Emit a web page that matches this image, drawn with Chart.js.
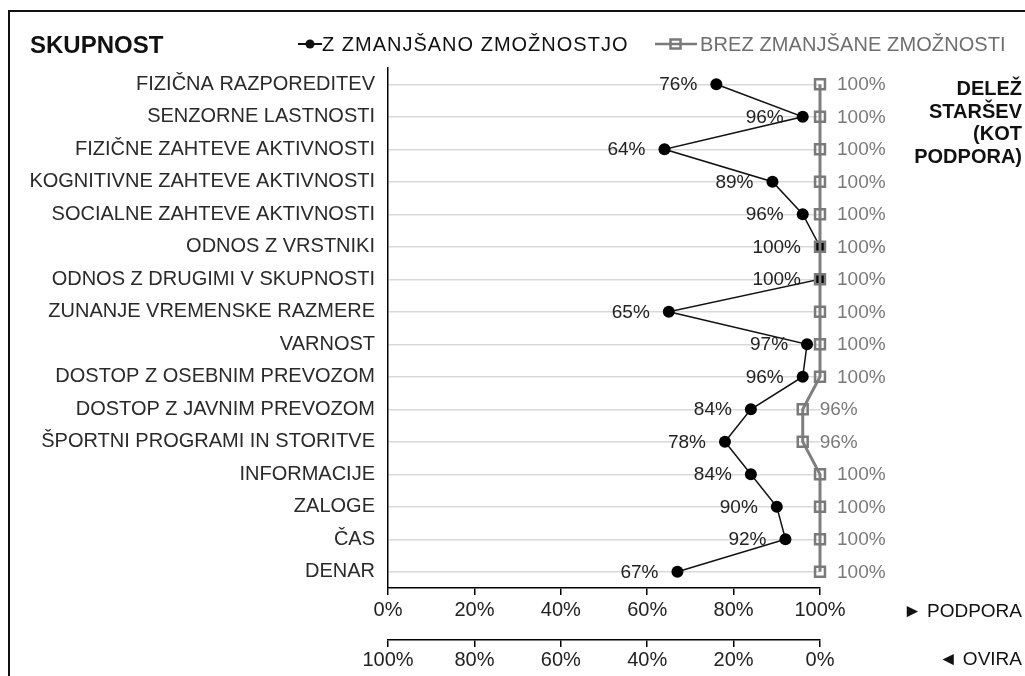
<!DOCTYPE html>
<html>
<head>
<meta charset="utf-8">
<script src="https://cdn.jsdelivr.net/npm/chart.js@4.4.1/dist/chart.umd.min.js"></script>
<style>
body { margin: 0; background: #fff; font-family: "Liberation Sans", Arial, sans-serif; }
#wrap { position: relative; width: 1025px; height: 676px; overflow: hidden; }
#frame { position: absolute; left: 8px; top: 10px; width: 1030px; height: 680px; border-left: 2px solid #111; border-top: 2px solid #111; }
#chart-box { position: absolute; left: 0; top: 0; width: 1025px; height: 676px; }
.txt { position: absolute; white-space: nowrap; line-height: 1; }
#title { left: 30px; top: 33px; font-size: 24px; font-weight: bold; color: #111; }
.leg { top: 34px; font-size: 20px; }
#leg1 { left: 322px; color: #111; letter-spacing: 1px; }
#leg2 { left: 700px; color: #6f6f6f; letter-spacing: 0.1px; }
#note { right: 3px; top: 77px; font-size: 20px; font-weight: bold; line-height: 22.5px; text-align: right; color: #111; }
.axname { right: 3px; font-size: 19px; color: #111; }
svg.sym { position: absolute; top: 34px; }
</style>
</head>
<body>
<div id="wrap">
  <div id="frame"></div>
  <div id="chart-box"><canvas id="line-chart"></canvas></div>
  <div class="txt" id="title">SKUPNOST</div>
  <svg class="sym" style="left:297px" width="26" height="20">
    <line x1="1" y1="10" x2="25" y2="10" stroke="#111" stroke-width="2"/>
    <circle cx="13" cy="10" r="4.5" fill="#111"/>
  </svg>
  <div class="txt leg" id="leg1">Z ZMANJŠANO ZMOŽNOSTJO</div>
  <svg class="sym" style="left:654px" width="44" height="20">
    <line x1="1" y1="10" x2="43" y2="10" stroke="#7a7a7a" stroke-width="2.5"/>
    <rect x="16.5" y="5.5" width="10" height="9" fill="none" stroke="#7a7a7a" stroke-width="2.5"/>
  </svg>
  <div class="txt leg" id="leg2">BREZ ZMANJŠANE ZMOŽNOSTI</div>
  <div class="txt" id="note">DELEŽ<br>STARŠEV<br>(KOT<br>PODPORA)</div>
  <div class="txt axname" style="top:601px">► PODPORA</div>
  <div class="txt axname" style="top:649px">◄ OVIRA</div>
</div>
<script>
const categories = [
    "FIZIČNA RAZPOREDITEV", "SENZORNE LASTNOSTI", "FIZIČNE ZAHTEVE AKTIVNOSTI",
    "KOGNITIVNE ZAHTEVE AKTIVNOSTI", "SOCIALNE ZAHTEVE AKTIVNOSTI", "ODNOS Z VRSTNIKI",
    "ODNOS Z DRUGIMI V SKUPNOSTI", "ZUNANJE VREMENSKE RAZMERE", "VARNOST",
    "DOSTOP Z OSEBNIM PREVOZOM", "DOSTOP Z JAVNIM PREVOZOM", "ŠPORTNI PROGRAMI IN STORITVE",
    "INFORMACIJE", "ZALOGE", "ČAS", "DENAR"
];
const withDisability = [76, 96, 64, 89, 96, 100, 100, 65, 97, 96, 84, 78, 84, 90, 92, 67];
const withoutDisability = [100, 100, 100, 100, 100, 100, 100, 100, 100, 100, 96, 96, 100, 100, 100, 100];
const percentTicks = [0, 20, 40, 60, 80, 100];

// value labels next to each point
const pointLabels = {
    id: 'pointLabels',
    afterDatasetsDraw(chart) {
        const ctx = chart.ctx;
        ctx.save();
        ctx.font = '19px "Liberation Sans", Arial, sans-serif';
        ctx.textBaseline = 'middle';
        chart.data.datasets.forEach(function (ds, i) {
            const meta = chart.getDatasetMeta(i);
            meta.data.forEach(function (pt, j) {
                const txt = ds.data[j] + '%';
                if (ds.labelSide === 'left') {
                    ctx.fillStyle = '#222';
                    ctx.textAlign = 'right';
                    ctx.fillText(txt, pt.x - 19, pt.y + 1);
                } else {
                    ctx.fillStyle = '#7a7a7a';
                    ctx.textAlign = 'left';
                    ctx.fillText(txt, pt.x + 17, pt.y + 1);
                }
            });
        });
        ctx.restore();
    }
};

const tickFont = { family: '"Liberation Sans", Arial, sans-serif', size: 20 };

const lineChart = document.getElementById("line-chart");
var CHART1 = new Chart(lineChart, {
    type: 'line',
    data: {
        labels: categories,
        datasets: [{
            label: "BREZ ZMANJŠANE ZMOŽNOSTI",
            data: withoutDisability,
            borderColor: '#7f7f7f',
            borderWidth: 3,
            pointStyle: 'rect',
            pointRadius: 7,
            pointBorderWidth: 2.5,
            pointBorderColor: '#7a7a7a',
            pointBackgroundColor: 'rgba(255,255,255,0)',
            labelSide: 'right',
            order: 0,
            clip: false
        }, {
            label: "Z ZMANJŠANO ZMOŽNOSTJO",
            data: withDisability,
            borderColor: '#111',
            borderWidth: 1.5,
            pointRadius: 6,
            pointBorderWidth: 0,
            pointBackgroundColor: '#000',
            labelSide: 'left',
            order: 1,
            clip: false
        }]
    },
    options: {
        indexAxis: 'y',
        responsive: true,
        maintainAspectRatio: false,
        animation: false,
        layout: { padding: { left: 0, top: 68, right: 205, bottom: 0 } },
        plugins: { legend: { display: false }, tooltip: { enabled: false } },
        scales: {
            x: {
                type: 'linear',
                position: 'bottom',
                min: 0,
                max: 100,
                afterBuildTicks: function (scale) {
                    scale.ticks = percentTicks.map(function (v) { return { value: v }; });
                },
                afterFit: function (scale) { scale.height = 52; },
                grid: { drawOnChartArea: false, drawTicks: true, tickLength: 7, color: '#000', lineWidth: 1.5 },
                border: { display: true, color: '#000', width: 1.5 },
                ticks: { font: tickFont, color: '#222', padding: 3, maxRotation: 0,
                    callback: function (v) { return v + '%'; } }
            },
            x2: {
                type: 'linear',
                position: 'bottom',
                reverse: true,
                min: 0,
                max: 100,
                afterBuildTicks: function (scale) {
                    scale.ticks = percentTicks.map(function (v) { return { value: v }; });
                },
                afterFit: function (scale) { scale.height = 36; },
                grid: { drawOnChartArea: false, drawTicks: true, tickLength: 7, color: '#000', lineWidth: 1.5 },
                border: { display: true, color: '#000', width: 1.5 },
                ticks: { font: tickFont, color: '#222', padding: 1, maxRotation: 0,
                    callback: function (v) { return v + '%'; } }
            },
            y: {
                type: 'category',
                offset: true,
                afterFit: function (scale) { scale.width = 388; },
                grid: { color: '#d9d9d9', lineWidth: 1.5, drawTicks: false },
                border: { display: true, color: '#000', width: 1.5 },
                ticks: { font: tickFont, color: '#2a2a2a', padding: 13, autoSkip: false }
            }
        }
    },
    plugins: [pointLabels]
});
</script>
</body>
</html>
